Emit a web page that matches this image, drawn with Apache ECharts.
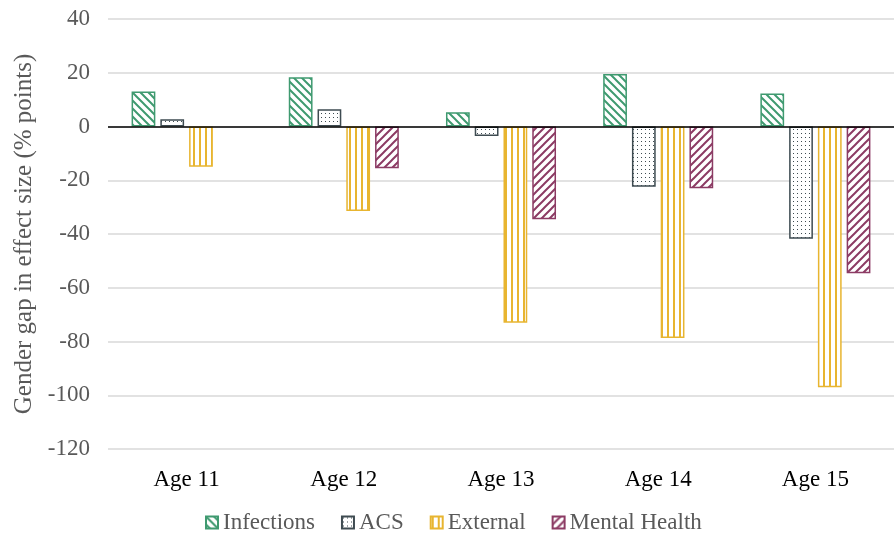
<!DOCTYPE html>
<html>
<head>
<meta charset="utf-8">
<script src="https://cdn.jsdelivr.net/npm/echarts@6/dist/echarts.min.js"></script>
<style>
    html, body { margin: 0; padding: 0; background: #fff; }
    #chart { width: 894px; height: 539px; }
</style>
</head>
<body>
<div id="chart"></div>
<script>
// values
var categories = ['Age 11', 'Age 12', 'Age 13', 'Age 14', 'Age 15']
var infections = [13, 18.3, 5.3, 19.5, 12.3]
var acs = [2.7, 6.4, -3.5, -22.4, -41.8]
var external = [-15, -31.4, -73, -78.7, -97]
var mentalHealth = [null, -15.5, -34.5, -23, -54.6]

var serif = '"Liberation Serif", "DejaVu Serif", serif'

// small canvas tiles used as hatch fills
function makePattern(kind, color) {
    var c = document.createElement('canvas')
    var s = kind === 'dots' ? 4 : (kind === 'vert' ? 6 : 8)
    c.width = s
    c.height = s
    var ctx = c.getContext('2d')
    ctx.fillStyle = '#fff'
    ctx.fillRect(0, 0, s, s)
    ctx.strokeStyle = color
    ctx.fillStyle = color
    ctx.lineWidth = 2
    if (kind === 'back') {
        ctx.beginPath()
        ctx.moveTo(-2, -2); ctx.lineTo(s + 2, s + 2)
        ctx.moveTo(-2 - s, -2); ctx.lineTo(2, s + 2)
        ctx.moveTo(s - 2, -2); ctx.lineTo(2 * s + 2, s + 2)
        ctx.stroke()
    } else if (kind === 'fwd') {
        ctx.beginPath()
        ctx.moveTo(-2, s + 2); ctx.lineTo(s + 2, -2)
        ctx.moveTo(-2 - s, s + 2); ctx.lineTo(2, -2)
        ctx.moveTo(s - 2, s + 2); ctx.lineTo(2 * s + 2, -2)
        ctx.stroke()
    } else if (kind === 'vert') {
        ctx.fillRect(1, 0, 2, s)
    } else {
        ctx.fillRect(1, 1, 1, 1)
    }
    return { image: c, repeat: 'repeat' }
}

function barSeries(name, data, kind, color) {
    return {
        name: name,
        type: 'bar',
        data: data,
        barGap: '21%',
        barCategoryGap: '30%',
        itemStyle: {
            color: makePattern(kind, color),
            borderColor: color,
            borderWidth: 1.5
        }
    }
}

var chart = echarts.init(document.getElementById('chart'))

var series = [
    barSeries('Infections', infections, 'back', '#3f9a70'),
    barSeries('ACS', acs, 'dots', '#3e4b51'),
    barSeries('External', external, 'vert', '#e8b530'),
    barSeries('Mental Health', mentalHealth, 'fwd', '#8c3b64')
]
series[0].markLine = {
    silent: true,
    symbol: ['none', 'none'],
    label: { show: false },
    lineStyle: { color: '#000', width: 1.5, type: 'solid' },
    data: [{ yAxis: 0 }]
}

chart.setOption({
    animation: false,
    backgroundColor: '#fff',
    grid: { left: 108, right: -5, top: 19, bottom: 90 },
    legend: {
        bottom: 0,
        left: 200,
        icon: 'rect',
        itemWidth: 12,
        itemHeight: 12,
        itemGap: 26,
        textStyle: { fontFamily: serif, fontSize: 23, color: '#595959' }
    },
    xAxis: {
        type: 'category',
        data: categories,
        axisLine: { show: false },
        axisTick: { show: false },
        axisLabel: { fontFamily: serif, fontSize: 23, color: '#000', margin: 19 }
    },
    yAxis: {
        type: 'value',
        min: -120,
        max: 40,
        interval: 20,
        name: 'Gender gap in effect size (% points)',
        nameLocation: 'middle',
        nameGap: 67,
        nameTextStyle: { fontFamily: serif, fontSize: 25, color: '#595959' },
        axisLabel: { fontFamily: serif, fontSize: 23, color: '#595959', margin: 18 },
        splitLine: { lineStyle: { color: '#d9d9d9', width: 1.5 } }
    },
    series: series
})
</script>
</body>
</html>
